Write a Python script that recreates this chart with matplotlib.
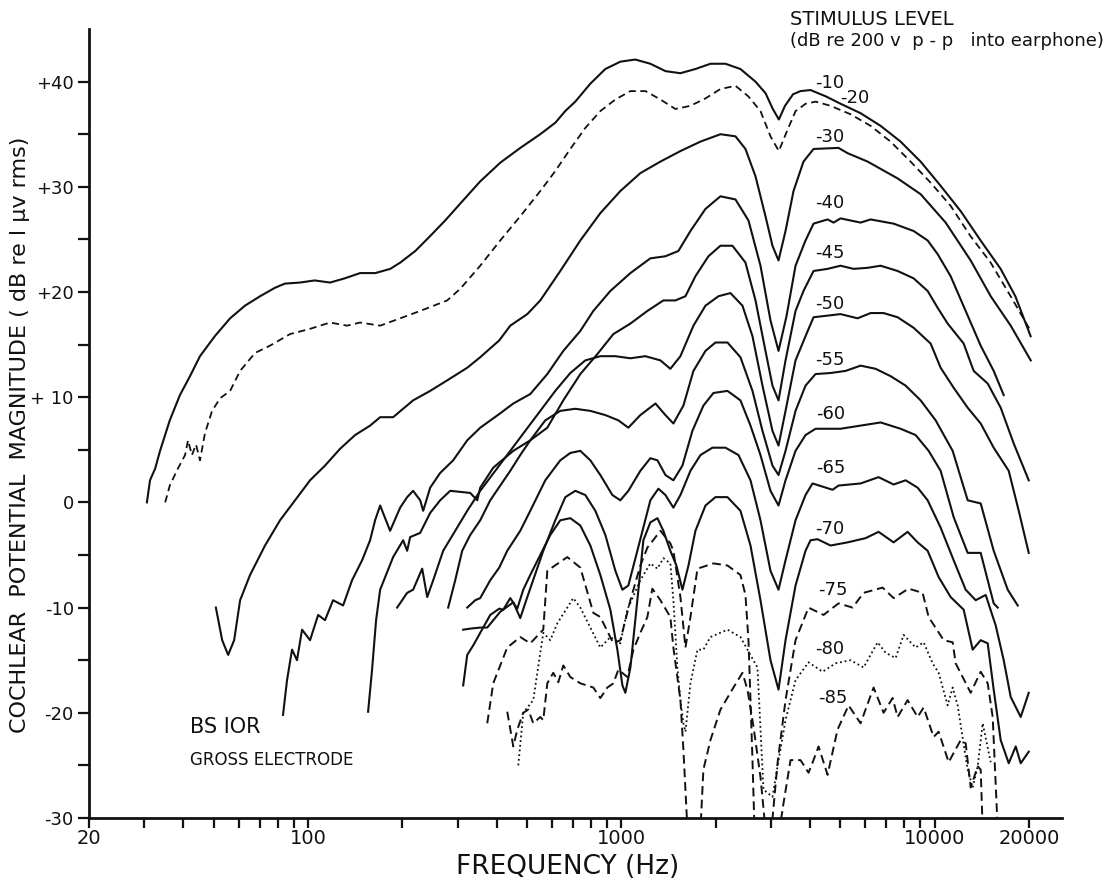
import matplotlib.pyplot as plt
from matplotlib.ticker import FixedLocator, NullFormatter

# curves: frequency (Hz) and magnitude (dB re 1 uV rms)
lvl_10_f = [30.6, 31.3, 32.5, 33.7, 36.2, 39.0, 42.0, 45.2, 50.4, 56.4, 62.9, 70.3, 78.4, 84.4,
            94.3, 105, 117.6, 131, 146.6, 164, 183, 197, 220, 245, 274, 306, 354, 411, 476, 551,
            616, 662, 713, 796, 889, 993, 1108, 1238, 1383, 1543, 1724, 1925, 2150, 2400, 2680,
            2886, 3045, 3183, 3330, 3533, 3732, 4017, 4495, 5008, 5802, 6721, 7786, 9020, 10449,
            12104, 14022, 16244, 18100, 20254]
lvl_10_db = [0, 2.1, 3.2, 4.9, 7.8, 10.2, 12.0, 13.9, 15.8, 17.5, 18.7, 19.6, 20.4, 20.8,
             20.9, 21.1, 20.9, 21.3, 21.8, 21.8, 22.2, 22.8, 23.9, 25.3, 26.8, 28.4, 30.5, 32.3,
             33.7, 35.0, 36.1, 37.2, 38.1, 39.8, 41.2, 41.9, 42.1, 41.7, 41.0, 40.8, 41.2, 41.7,
             41.7, 41.2, 40.0, 38.9, 37.4, 36.4, 37.7, 38.8, 39.1, 39.2, 38.6, 37.9, 37.0, 35.8,
             34.3, 32.4, 30.1, 27.7, 24.9, 22.2, 19.6, 15.8]

lvl_20_f = [35.0, 36.2, 38.4, 40.5, 41.4, 42.6, 43.9, 45.2, 46.9, 49.4, 52.4, 56.4, 60.7, 67.7,
            75.6, 87.6, 101.5, 117.6, 133.3, 146.6, 169.9, 196.8, 228, 278.1, 306, 354.5, 410.7,
            475.8, 551.2, 615.5, 687.3, 767.5, 857.1, 957.1, 1069, 1194, 1333, 1488, 1661, 1855,
            2072, 2314, 2544, 2781, 2993, 3183, 3379, 3599, 3876, 4174, 4653, 5390, 6244, 7234,
            8380, 9708, 11246, 13028, 15092, 17484, 20254]
lvl_20_db = [0, 1.6, 3.2, 4.5, 5.9, 4.5, 5.5, 4.0, 6.6, 8.7, 9.9, 10.6, 12.5, 14.2,
             14.9, 16.0, 16.5, 17.1, 16.8, 17.1, 16.8, 17.5, 18.2, 19.2, 20.3, 22.5, 24.9,
             27.2, 29.6, 31.5, 33.6, 35.6, 37.2, 38.3, 39.1, 39.1, 38.3, 37.4, 37.7, 38.4,
             39.3, 39.6, 38.6, 37.2, 34.8, 33.4, 35.3, 37.2, 37.9, 38.1, 37.7, 36.9, 35.8, 34.3,
             32.4, 30.4, 28.2, 25.3, 22.8, 19.6, 16.3]

lvl_30_f = [50.8, 53.2, 55.6, 58.1, 60.7, 65.3, 72.9, 81.4, 90.9, 101.5, 113.3, 126.6, 141.3,
            157.8, 169.9, 186.9, 216.5, 245.4, 278.1, 322.2, 354.5, 407.7, 442.1, 501, 551.2,
            638.6, 739.8, 857.1, 992.9, 1150, 1333, 1544, 1789, 2072, 2314, 2490, 2681, 2885,
            3037, 3175, 3343, 3545, 3815, 4107, 4936, 5274, 6110, 7619, 9023, 10845, 13035,
            15101, 17495, 20268]
lvl_30_db = [-10.0, -13.1, -14.5, -13.1, -9.3, -6.9, -4.1, -1.7, 0.2, 2.1, 3.5, 5.1, 6.4,
             7.3, 8.1, 8.1, 9.7, 10.6, 11.6, 12.8, 13.8, 15.4, 16.8, 17.9, 19.2,
             22.0, 24.9, 27.5, 29.6, 31.3, 32.4, 33.4, 34.3, 35.0, 34.8, 33.6, 31.0, 27.2,
             24.4, 23.0, 25.8, 29.6, 32.4, 33.6, 33.7, 33.2, 32.4, 30.8, 29.3, 26.6, 23.0,
             19.6, 16.8, 13.5]

lvl_40_f = [83.2, 85.7, 88.9, 92.2, 95.7, 101.5, 107.7, 113.3, 120.2, 129.4, 138.2, 148.8, 157.8,
            163.7, 169.9, 182.8, 196.8, 207.2, 216.5, 228, 233.1, 245.4, 264.1, 290.6, 322.2,
            354.5, 407.7, 452, 512.1, 580.4, 652.8, 739.8, 814, 922.5, 1069, 1238, 1383, 1521,
            1662, 1856, 2072, 2314, 2546, 2781, 2993, 3175, 3367, 3598, 3872, 4107, 4553, 4758,
            5009, 5803, 6246, 7398, 8570, 9500, 10226, 11251, 12564, 14030, 15438, 16617]
lvl_40_db = [-20.2, -16.9, -14.0, -15.0, -12.1, -13.1, -10.7, -11.2, -9.3, -9.8, -7.4, -5.5, -3.6,
             -1.7, -0.3, -2.7, -0.5, 0.5, 1.1, 0.2, -0.8, 1.4, 2.8, 4.0, 5.9,
             7.1, 8.4, 9.4, 10.3, 12.2, 14.4, 16.3, 18.2, 20.1, 21.8, 23.2, 23.4, 23.9,
             25.8, 27.9, 29.1, 28.8, 26.8, 22.5, 17.3, 14.4, 17.7, 22.5, 24.9, 26.5, 26.9, 26.6,
             27.0, 26.6, 26.9, 26.5, 25.8, 24.9, 23.6, 21.5, 18.2, 14.9, 12.5, 10.2]

lvl_45_f = [155.5, 160.1, 164.9, 169.9, 186.9, 201.2, 207.2, 211.8, 228, 245.4, 264.1, 284.3,
            329.4, 346.8, 354.5, 390.1, 452, 512.1, 580.4, 652.8, 739.8, 838.4, 943.1, 1069,
            1211, 1362, 1488, 1602, 1724, 1897, 2072, 2263, 2490, 2681, 2885, 3037, 3175, 3343,
            3598, 3815, 4107, 4553, 5009, 5512, 6110, 6723, 7619, 8570, 9500, 10226, 11006,
            12380, 13326, 14772, 16254, 17885, 19973]
lvl_45_db = [-19.9, -15.9, -11.2, -8.3, -5.2, -3.6, -4.6, -3.3, -2.9, -1.0, 0.2, 1.1,
             0.9, 0.2, 1.4, 3.3, 4.9, 5.9, 7.1, 9.7, 12.2, 14.1, 16.0, 17.0,
             18.2, 19.2, 19.2, 19.6, 21.5, 23.4, 24.4, 24.4, 22.8, 19.2, 14.4, 11.1, 9.7, 13.5,
             18.2, 20.1, 22.0, 22.2, 22.5, 22.2, 22.3, 22.5, 22.0, 21.3, 20.1, 18.5, 17.0,
             15.1, 12.5, 11.3, 9.0, 5.6, 2.1]

lvl_50_f = [192.5, 207.2, 216.5, 231.4, 240.1, 250.9, 270, 295, 322.2, 354.5, 395.9, 442.1,
            493.6, 551.2, 615.5, 687.3, 767.5, 857.1, 957.1, 1069, 1193, 1333, 1434, 1544,
            1699, 1856, 2042, 2230, 2436, 2622, 2822, 3037, 3175, 3343, 3598, 3872, 4107, 5009,
            5677, 6246, 6873, 7619, 8570, 9712, 10453, 11502, 12751, 14030, 15438, 17241,
            18557, 19973]
lvl_50_db = [-10.0, -8.6, -8.3, -6.3, -9.0, -7.4, -4.6, -2.7, -0.8, 1.1, 3.0, 4.9,
             6.8, 8.7, 10.6, 12.3, 13.5, 13.9, 13.9, 13.7, 13.9, 13.5, 12.7, 13.9,
             16.8, 18.7, 19.6, 19.9, 18.7, 15.8, 11.1, 6.8, 5.4, 8.7, 13.5, 15.8, 17.6, 17.9,
             17.5, 18.0, 18.0, 17.6, 16.6, 15.1, 12.8, 10.9, 9.0, 7.5, 5.2, 3.0,
             -0.8, -4.8]

lvl_55_f = [280.1, 295, 310.5, 329.4, 354.5, 381.6, 410.7, 442.1, 475.8, 512.1, 571.9, 638.6,
            713.1, 796.3, 889.3, 978.5, 1053, 1150, 1285, 1383, 1466, 1578, 1699, 1856, 1997,
            2182, 2400, 2622, 2822, 3037, 3175, 3343, 3598, 3872, 4168, 4654, 5197, 5803, 6481,
            7236, 8081, 9023, 10076, 11418, 12751, 14030, 15438, 17114, 18421]
lvl_55_db = [-10.0, -7.4, -4.6, -3.1, -1.7, 0.2, 1.6, 3.0, 4.5, 5.9, 7.8, 8.7,
             8.9, 8.7, 8.3, 7.8, 7.1, 8.3, 9.4, 8.3, 7.5, 9.2, 12.5, 14.4, 15.2,
             15.2, 13.8, 10.6, 6.8, 3.5, 2.6, 4.9, 8.7, 11.1, 12.2, 12.3, 12.5, 13.0, 12.7,
             12.0, 11.1, 9.7, 7.8, 4.9, 0.2, -0.1, -4.6, -8.3, -9.8]

lvl_60_f = [322.2, 341.8, 354.5, 381.6, 407.7, 432.4, 475.8, 512.1, 571.9, 638.6, 687.3, 739.8,
            796.3, 857.1, 936.2, 992.9, 1053, 1150, 1238, 1304, 1383, 1466, 1567, 1686, 1828,
            1968, 2182, 2400, 2584, 2781, 2993, 3175, 3343, 3598, 3872, 4168, 5009, 5803, 6723,
            7789, 8698, 9571, 10453, 11502, 12751, 14030, 15438, 15900]
lvl_60_db = [-10.0, -9.3, -9.1, -7.4, -6.2, -4.6, -2.7, -0.8, 2.1, 4.0, 4.7, 4.9,
             4.0, 2.6, 0.7, 0.2, 1.1, 3.0, 4.2, 4.0, 2.6, 2.1, 3.5, 6.8, 9.2,
             10.4, 10.6, 9.7, 7.3, 4.5, 1.1, -0.3, 2.1, 4.9, 6.4, 7.0, 7.0, 7.3, 7.6,
             7.0, 6.4, 4.9, 3.0, -1.4, -4.8, -4.8, -9.6, -10.0]

lvl_65_f = [312.8, 329.4, 354.5, 373.3, 410.7, 452, 475.8, 501, 563.5, 615.5, 662.5, 713.1,
            767.5, 826.2, 889.3, 957.1, 1008, 1053, 1125, 1238, 1313, 1383, 1466, 1544, 1662,
            1789, 1953, 2150, 2366, 2584, 2781, 2993, 3175, 3343, 3598, 3872, 4077, 4723, 4936,
            5803, 6625, 7398, 8081, 8827, 9500, 10453, 11502, 12564, 13524, 14556, 15667,
            16617, 17495, 18830, 19973]
lvl_65_db = [-12.1, -12.0, -11.9, -11.9, -10.4, -9.5, -11.0, -9.0, -4.6, -1.7, 0.5, 1.1,
             0.7, -0.8, -3.1, -6.5, -8.3, -7.9, -4.6, 0.2, 1.3, 0.7, -0.5, 0.7, 3.0,
             4.5, 5.2, 5.2, 4.5, 2.1, -1.7, -6.5, -8.3, -5.5, -1.7, 0.7, 1.8, 1.2, 1.6,
             1.8, 2.4, 1.7, 2.1, 1.4, 0.2, -2.4, -5.5, -8.3, -9.3, -8.8, -11.7,
             -15.0, -18.5, -20.4, -18.1]

lvl_70_f = [312.8, 322.2, 336.7, 354.5, 381.6, 407.7, 419.9, 442.1, 465.5, 486.4, 512.1, 551.2,
            593.3, 638.6, 687.3, 739.8, 796.3, 857.1, 922.5, 971.3, 1008, 1030, 1069, 1125,
            1176, 1238, 1304, 1362, 1434, 1499, 1567, 1638, 1724, 1856, 1997, 2182, 2400, 2584,
            2781, 2993, 3175, 3343, 3598, 3872, 4017, 4230, 4654, 5274, 6021, 6625, 7398, 8201,
            8827, 9500, 10301, 11251, 12380, 13228, 14030, 14772, 15438, 16254, 17241, 18151,
            18830, 19973]
lvl_70_db = [-17.4, -14.5, -13.6, -12.4, -10.7, -10.1, -10.2, -9.1, -10.1, -8.3, -6.9, -5.0,
             -3.1, -1.7, -1.5, -2.2, -4.1, -6.9, -10.2, -14.0, -17.4, -18.1, -15.7, -9.3,
             -3.6, -1.9, -1.5, -2.7, -4.6, -6.0, -8.3, -6.0, -2.7, -0.3, 0.5, 0.5, -0.8, -4.1,
             -9.3, -15.0, -17.8, -13.1, -7.9, -4.6, -3.6, -3.5, -4.1, -3.8, -3.4, -2.8, -3.8, -2.8,
             -3.8, -4.6, -7.1, -9.0, -10.2, -14.0, -13.1, -13.4, -17.8, -22.6, -24.8, -23.2,
             -24.8, -23.7]

lvl_75_f = [373.3, 390.1, 432.4, 475.8, 512.1, 563.5, 580.4, 672.4, 739.8, 814, 857.1, 943.1,
            992.9, 1069, 1150, 1211, 1333, 1434, 1466, 1544, 1602, 1662, 1750, 1968, 2182, 2400,
            2490, 2546, 2584, 2622, 2661, 3015, 3152, 3343, 3598, 3959, 4420, 4936, 5472, 5933,
            6823, 7398, 8261, 9157, 9571, 10686, 11418, 11673, 13035, 14030, 14772, 15324, 15900]
lvl_75_db = [-21.0, -17.2, -13.8, -12.8, -13.4, -12.1, -6.5, -5.2, -6.2, -10.5, -10.9, -13.4,
             -13.1, -9.3, -6.0, -4.3, -2.7, -3.9, -4.6, -9.0, -13.8, -10.9, -6.3, -5.8, -6.0, -6.9,
             -8.8, -13.1, -18.8, -24.5, -31.1, -31.1, -24.8, -18.8, -13.1, -10.0, -10.7, -9.6, -10.0,
             -8.6, -8.1, -9.1, -8.2, -8.6, -10.9, -13.1, -13.3, -15.3, -18.1, -16.1, -17.2, -20.4,
             -31.1]

lvl_80_f = [468.9, 486.4, 523.5, 563.5, 593.3, 624.7, 702.6, 739.8, 796.3, 857.1, 922.5, 992.9,
            1045, 1150, 1238, 1304, 1362, 1434, 1466, 1510, 1544, 1578, 1602, 1662, 1750, 1828,
            1925, 2182, 2400, 2720, 2843, 3037, 3152, 3343, 3598, 3959, 4388, 4829, 5392, 5933,
            6577, 6975, 7508, 7962, 8698, 9224, 9856, 10301, 11006, 11418, 11846, 12289, 12751,
            13228, 13725, 14238, 15101]
lvl_80_db = [-25.0, -20.0, -18.8, -12.4, -13.1, -11.5, -9.1, -10.0, -11.9, -13.8, -12.8, -13.4,
             -10.2, -7.4, -5.8, -6.3, -5.3, -5.8, -9.3, -15.7, -18.8, -21.0, -21.8, -17.2, -14.0,
             -14.0, -12.8, -12.1, -12.8, -15.7, -27.3, -28.0, -25.1, -20.7, -16.9, -15.2, -16.1,
             -15.3, -15.0, -15.7, -13.3, -14.3, -14.8, -12.6, -13.8, -13.3, -15.3, -16.2, -19.3,
             -17.6, -19.3, -22.4, -25.4, -27.1, -25.1, -21.0, -24.7]

lvl_85_f = [432.4, 452, 465.5, 486.4, 504.7, 523.5, 551.2, 563.5, 580.4, 606.5, 629.3, 652.8,
            687.3, 739.8, 814, 857.1, 902.4, 943.1, 978.5, 1045, 1093, 1150, 1211, 1256, 1333,
            1434, 1466, 1544, 1578, 1626, 1789, 1828, 1925, 2072, 2280, 2436, 2527, 2641, 2781,
            2885, 3198, 3294, 3468, 3732, 3959, 4107, 4261, 4553, 4900, 5313, 5803, 6386, 6873,
            7343, 7619, 8201, 8827, 9224, 9928, 10301, 11087, 12110, 12564, 13035, 13725, 14030,
            14238]
lvl_85_db = [-19.9, -23.2, -21.6, -20.0, -19.7, -21.0, -20.4, -20.7, -17.2, -16.2, -17.1, -15.5,
             -16.6, -17.2, -17.6, -18.6, -17.6, -17.2, -15.9, -16.6, -14.0, -12.4, -10.9, -8.2,
             -9.3, -10.9, -13.8, -18.8, -23.5, -31.1, -31.1, -25.4, -22.6, -19.7, -17.6, -16.2,
             -17.8, -21.3, -26.1, -31.1, -31.1, -28.6, -24.5, -24.5, -25.7, -24.5, -23.2, -25.9,
             -21.6, -19.3, -21.0, -17.6, -20.0, -18.6, -20.4, -18.8, -20.4, -19.5, -22.3, -21.8,
             -24.7, -22.6, -22.9, -27.1, -25.1, -25.4, -31.1]

# label text and its vertical position (dB) next to each curve
level_names = ["-10", "-20", "-30", "-40", "-45", "-50", "-55", "-60", "-65", "-70", "-75", "-80", "-85"]
level_label_db = [39.9, 38.4, 34.7, 28.5, 23.7, 18.9, 13.5, 8.4, 3.3, -2.5, -8.3, -13.9, -18.6]
level_label_hz = [4150, 5000, 4150, 4150, 4150, 4150, 4150, 4200, 4200, 4150, 4250, 4150, 4250]

x_major = [20, 100, 1000, 10000, 20000]
x_major_text = ["20", "100", "1000", "10000", "20000"]
y_major = [-30, -20, -10, 0, 10, 20, 30, 40]
y_major_text = ["-30", "-20", "-10", "0", "+ 10", "+20", "+30", "+40"]

fig = plt.figure(figsize=(11.09, 8.80), dpi=100)
ax = fig.add_axes([0.0803, 0.0705, 0.8773, 0.8965])

ink = "#111111"
solid = [(lvl_10_f, lvl_10_db), (lvl_30_f, lvl_30_db), (lvl_40_f, lvl_40_db),
         (lvl_45_f, lvl_45_db), (lvl_50_f, lvl_50_db), (lvl_55_f, lvl_55_db),
         (lvl_60_f, lvl_60_db), (lvl_65_f, lvl_65_db), (lvl_70_f, lvl_70_db)]
for f, db in solid:
    ax.plot(f, db, color=ink, lw=1.5)
ax.plot(lvl_20_f, lvl_20_db, color=ink, lw=1.3, dashes=(4, 2.5))
ax.plot(lvl_75_f, lvl_75_db, color=ink, lw=1.4, dashes=(4.5, 2.5))
ax.plot(lvl_80_f, lvl_80_db, color=ink, lw=1.3, dashes=(1, 1.6))
ax.plot(lvl_85_f, lvl_85_db, color=ink, lw=1.4, dashes=(4.5, 2.5))

ax.set_xscale("log")
ax.set_xlim(20, 25500)
ax.set_ylim(-30, 45)

for name, hz, db in zip(level_names, level_label_hz, level_label_db):
    ax.text(hz, db, name, fontsize=13, ha="left", va="center", color=ink)

fig.text(0.712, 0.978, "STIMULUS LEVEL", fontsize=14, color=ink, ha="left", va="center")
fig.text(0.712, 0.953, "(dB re 200 v  p - p   into earphone)", fontsize=13, color=ink,
         ha="left", va="center")
fig.text(0.171, 0.174, "BS IOR", fontsize=15, color=ink, ha="left", va="center")
fig.text(0.171, 0.136, "GROSS ELECTRODE", fontsize=12, color=ink, ha="left", va="center")

fig.text(0.512, 0.015, "FREQUENCY (Hz)", fontsize=19, color=ink, ha="center", va="center")
fig.text(0.018, 0.506, "COCHLEAR  POTENTIAL  MAGNITUDE ( dB re l \u03bcv rms)", fontsize=16,
         color=ink, ha="center", va="center", rotation=90)

for side in ["top", "right"]:
    ax.spines[side].set_visible(False)
for side in ["left", "bottom"]:
    ax.spines[side].set_linewidth(2.0)
    ax.spines[side].set_color(ink)

ax.xaxis.set_major_locator(FixedLocator(x_major))
ax.set_xticklabels(x_major_text)
minor_x = [m * d for d in (10, 100, 1000, 10000) for m in range(2, 10) if 20 < m * d < 25000]
ax.xaxis.set_minor_locator(FixedLocator(minor_x))
ax.xaxis.set_minor_formatter(NullFormatter())
ax.yaxis.set_major_locator(FixedLocator(y_major))
ax.set_yticklabels(y_major_text)
ax.yaxis.set_minor_locator(FixedLocator([-25, -15, -5, 5, 15, 25, 35]))
ax.tick_params(which="both", direction="out", length=8, width=1.6, color=ink,
               labelsize=13, labelcolor=ink, pad=3)
ax.tick_params(axis="x", which="both", length=7, pad=1, labelsize=14)

fig.savefig("out.png", dpi=100)
